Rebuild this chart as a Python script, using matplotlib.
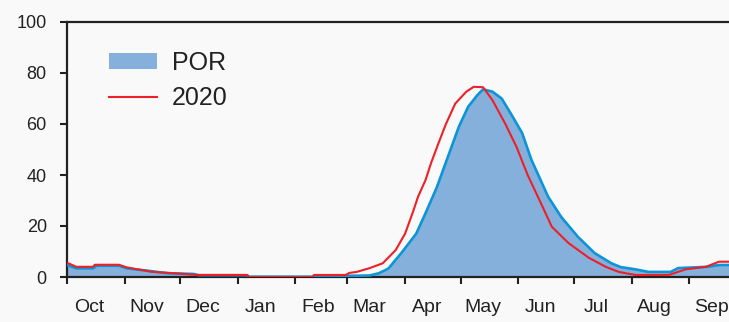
import numpy as np
import matplotlib.pyplot as plt

plt.rcParams['font.family'] = ['Liberation Sans', 'DejaVu Sans']

# day of water year (0 = Oct 1) and percent values
por_days = [0, 5, 14, 16, 28, 32, 43, 54, 68, 71, 97, 98, 132, 141, 157, 163, 168,
            173, 180, 188, 193, 199, 206, 211, 216, 221, 224, 229, 234, 239,
            245, 250, 259, 266, 275, 284, 293, 298, 306, 313, 325, 329, 345, 351, 365]
por_vals = [4.7, 3.4, 3.4, 4.4, 4.4, 3.4, 2.5, 1.5, 1.2, 0.7, 0.7, 0.1, 0.1, 0.5, 0.5, 0.6, 1.5,
            3.3, 9.4, 17, 25, 35, 49, 59, 66.8, 71.4, 73.6, 72.7, 70, 64,
            56.5, 46, 31.5, 23.6, 15.8, 9.4, 5.4, 3.9, 3, 2, 2, 3.5, 4, 4.7, 4.7]

y2020_days = [0, 5, 14, 15, 28, 32, 38, 46, 55, 70, 97, 98, 132, 133, 150, 152, 156,
              163, 170, 177, 182, 186, 189, 193, 196, 200, 204, 209, 215, 219, 224,
              229, 236, 242, 248, 256, 261, 270, 281, 290, 297, 306, 324, 333, 344, 351, 365]
y2020_vals = [5.6, 4, 4, 4.8, 4.8, 3.8, 3, 2, 1.6, 0.8, 0.8, 0, 0, 0.8, 0.8, 1.6, 2,
              3.5, 5.4, 10.6, 17, 25, 31.5, 38, 44.7, 52.5, 60, 68, 72.7, 74.6, 74.4,
              69.4, 60, 51, 40, 27.6, 19.7, 13.3, 7.5, 4, 2, 0.8, 0.8, 3, 4, 6, 6]

month_starts = [0, 31, 61, 92, 123, 151, 182, 212, 243, 273, 304, 335]
month_labels = ['Oct', 'Nov', 'Dec', 'Jan', 'Feb', 'Mar', 'Apr', 'May', 'Jun', 'Jul', 'Aug', 'Sep']

bg = '#f9f9f9'
ink = '#222222'

fig = plt.figure(figsize=(7.29, 3.22), dpi=100, facecolor=bg)
ax = fig.add_axes([67 / 729, 1 - 277 / 322, 678 / 729, 255 / 322], facecolor=bg)

ax.fill_between(por_days, por_vals, 0, color='#86b0dc', lw=0, label='POR')
ax.plot(por_days, por_vals, color='#0c95d6', lw=1.9, zorder=3)
ax.plot(y2020_days, y2020_vals, color='#ee1f26', lw=1.5, zorder=4, label='2020')

ax.set_xlim(0, 365)
ax.set_ylim(0, 100)
ax.set_yticks([0, 20, 40, 60, 80, 100])

ax.set_xticks(month_starts)
ax.set_xticklabels([])
ax.set_xticks([m + 12 for m in month_starts], minor=True)
ax.set_xticklabels(month_labels, minor=True)
ax.tick_params(axis='x', which='major', direction='out', length=5, width=1.5, color=ink)
ax.tick_params(axis='x', which='minor', length=0, pad=16, labelsize=14, labelcolor=ink)
ax.tick_params(axis='y', direction='out', length=5, width=1.5, color=ink, pad=9.5,
               labelsize=13, labelcolor=ink)

for side in ['left', 'top', 'bottom']:
    ax.spines[side].set_linewidth(1.6)
    ax.spines[side].set_color(ink)
ax.spines['right'].set_visible(False)

leg = ax.legend(loc='upper left', bbox_to_anchor=(109 / 729, 1 - 51 / 322),
                bbox_transform=fig.transFigure, frameon=False, fontsize=18,
                handlelength=1.9, handleheight=0.6, handletextpad=0.6,
                labelspacing=0.45, borderpad=0, borderaxespad=0)
for t in leg.get_texts():
    t.set_color(ink)

fig.savefig('out.png', dpi=100, facecolor=bg)
